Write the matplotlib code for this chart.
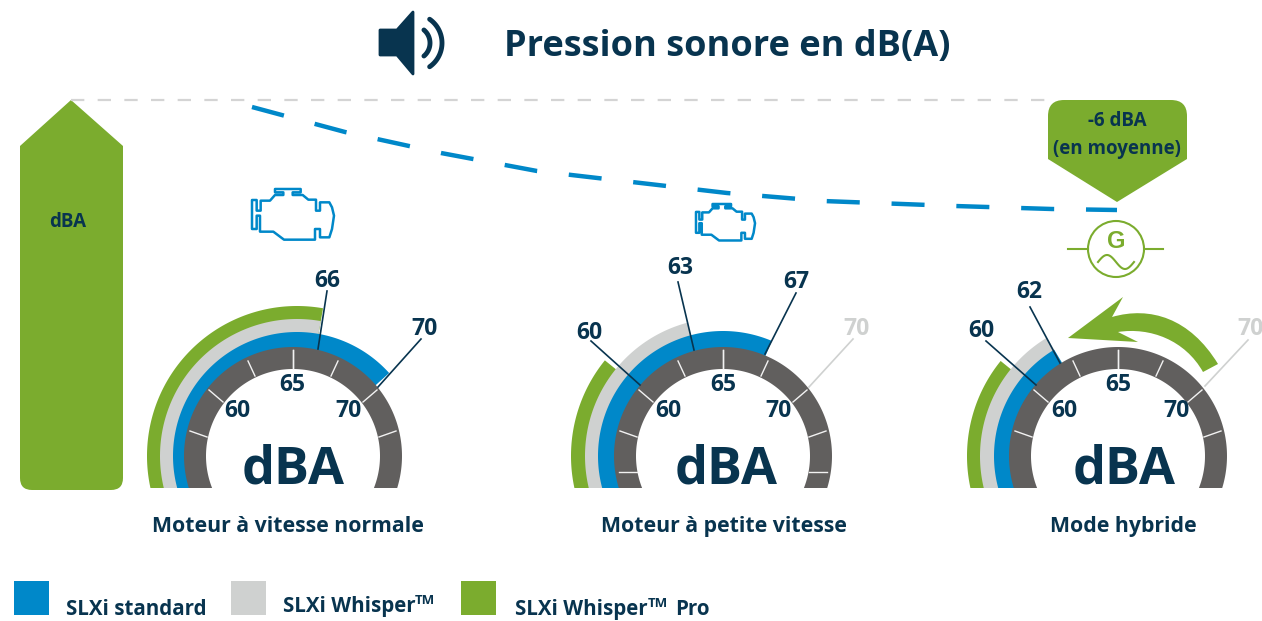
"""
Gauge infographic: pression sonore en dB(A)
"""

import numpy as np
import matplotlib
matplotlib.use("Agg")
import matplotlib.pyplot as plt
from matplotlib.patches import Polygon, Rectangle, Circle, PathPatch
from matplotlib.path import Path

navy = "#08344f"
blue = "#0088c9"
green = "#7bac2e"
light = "#cfd1d0"
dark = "#615f5e"
white = "#f2f2f2"

plt.rcParams["font.family"] = ["Open Sans", "DejaVu Sans"]

title = "Pression sonore en dB(A)"
gauge_names = ["Moteur à vitesse normale", "Moteur à petite vitesse", "Mode hybride"]
scale_labels = [60, 65, 70]
# value where each arc stops, per gauge
green_values = [66, 60, 60]
light_values = [66, 63, 62]
blue_values = [70, 67, 62]
legend_names = ["SLXi standard", "SLXi Whisper", "SLXi Whisper"]

# dial calibration read from the arcs (dB -> degrees)
dial_values = [60, 62, 63, 65, 66, 67, 70]
dial_angles = [141, 121, 105, 90, 80, 67, 42]

# dashed trend line
trend_x = [252, 345, 441, 537, 632, 727, 823, 955, 1052, 1117]
trend_y = [107, 132, 153, 171, 182, 193, 201, 206, 209, 210]

# layout of the three gauges
gauge_cx = [293, 723, 1118]
gauge_cy = 456
arc_cx = [297, 723, 1118]
arc_radii = [(150, 137, 124), (152, 138, 125), (151, 138, 124)]
inner_label_x = [(237, 292, 349), (668, 723, 779), (1064, 1118, 1176)]
dba_x = [293, 726, 1124]
name_x = [288, 724, 1123]

# tick ends relative to gauge centre
tick_in = [(0, 88), (38, 80), (70, 54), (86, 19)]
tick_out = [(0, 106), (45, 95), (84, 66), (103, 25)]

engine_x = [92, 120, 135, 160, 160, 135, 135, 212, 212, 188, 188, 218, 235, 258, 258, 270, 270,
            298, 306, 312, 306, 298, 270, 270, 255, 255, 162, 130, 90, 90, 80, 80, 66, 66, 80, 80, 92, 92]
engine_y = [605, 605, 588, 588, 580, 580, 570, 570, 580, 580, 588, 588, 602, 602, 635, 635, 610,
            610, 625, 650, 690, 715, 715, 690, 690, 722, 722, 698, 698, 650, 650, 690, 690, 603, 603, 635, 635, 605]


def val_to_angle(v):
    return np.interp(v, dial_values, dial_angles)


def ring(cx, cy, r_out, r_in, a1, a2):
    t = np.radians(np.linspace(a1, a2, 200))
    outer = np.column_stack((cx + r_out * np.cos(t), cy - r_out * np.sin(t)))
    inner = np.column_stack((cx + r_in * np.cos(t[::-1]), cy - r_in * np.sin(t[::-1])))
    return np.vstack((outer, inner))


def label(x, y, s, size=14.5, color=navy, **kw):
    # open sans sits a bit high when centred, push it down
    ax.text(x, y + size * 0.13, s, fontsize=size, color=color, ha=kw.pop("ha", "center"), va="center",
            fontweight="bold", **kw)


def draw_engine(x0, y0, scale):
    x = x0 + (np.array(engine_x) - 66) / 3 * scale
    y = y0 + (np.array(engine_y) - 570) / 3 * scale
    ax.add_patch(Polygon(np.column_stack((x, y)), closed=True, fill=False, ec=blue,
                         lw=1.8, joinstyle="round"))


fig = plt.figure(figsize=(12.62, 6.21), dpi=100)
ax = fig.add_axes([0, 0, 1, 1])
ax.set_xlim(0, 1262)
ax.set_ylim(621, 0)
ax.axis("off")

# title and speaker
label(727, 44, title, size=26)
ax.add_patch(Polygon([(380, 30), (397, 30), (413, 12), (413, 74), (397, 55), (380, 55)],
                     closed=True, fc=navy, ec=navy, lw=2, joinstyle="round"))
for r, span in [(17, 50), (29, 55)]:
    t = np.radians(np.linspace(-span, span, 40))
    ax.plot(413 + r * np.cos(t), 43 + r * np.sin(t), color=navy, lw=3.5, solid_capstyle="round")

# big arrow on the left
arrow_path = Path([(71, 100), (123, 146), (123, 478), (123, 490), (111, 490), (32, 490), (20, 490),
                   (20, 478), (20, 146), (71, 100)],
                  [Path.MOVETO, Path.LINETO, Path.LINETO, Path.CURVE3, Path.CURVE3, Path.LINETO,
                   Path.CURVE3, Path.CURVE3, Path.LINETO, Path.CLOSEPOLY])
ax.add_patch(PathPatch(arrow_path, fc=green, ec="none"))
label(68, 220, "dBA", size=13.5)

# reference and trend lines
ax.plot([71, 1050], [100, 100], color="#d4d4d4", lw=1.6, dashes=(6, 6))
ax.plot(trend_x, trend_y, color=blue, lw=3.2, dash_capstyle="butt", dashes=(7.43, 7.16))

# callout
call_path = Path([(1048, 159), (1048, 116), (1048, 100), (1064, 100), (1171, 100), (1187, 100),
                  (1187, 116), (1187, 159), (1117, 202), (1048, 159)],
                 [Path.MOVETO, Path.LINETO, Path.CURVE3, Path.CURVE3, Path.LINETO, Path.CURVE3,
                  Path.CURVE3, Path.LINETO, Path.LINETO, Path.CLOSEPOLY])
ax.add_patch(PathPatch(call_path, fc=green, ec="none"))
label(1117, 119, "-6 dBA", size=13.5)
label(1117, 147, "(en moyenne)", size=13.5)

# engines
draw_engine(252, 189, 1.0)
draw_engine(696, 204, 0.72)

# generator icon
ax.add_patch(Circle((1116, 249), 28, fill=False, ec=green, lw=1.5))
ax.plot([1068, 1088], [249, 249], color=green, lw=1.5)
ax.plot([1145, 1163], [249, 249], color=green, lw=1.5)
ax.text(1116, 241, "G", fontsize=17, color=green, ha="center", va="center", fontweight="bold",
        family="Liberation Sans")
wave_t = np.linspace(0, 1, 60)
ax.plot(1098 + 36 * wave_t, 262 - 7 * np.sin(2 * np.pi * wave_t), color=green, lw=1.5)

# gauges
clip = Rectangle((0, 0), 1262, 488, transform=ax.transData)
for i in range(3):
    cx = gauge_cx[i]
    r_g, r_l, r_b = arc_radii[i]
    for r, v, c in [(r_g, green_values[i], green), (r_l, light_values[i], light), (r_b, blue_values[i], blue)]:
        # inner edge stays hidden under the grey dial
        p = Polygon(ring(arc_cx[i], gauge_cy, r, 100, val_to_angle(v), 200), closed=True, fc=c, ec="none")
        ax.add_patch(p)
        p.set_clip_path(clip)
    p = Polygon(ring(cx, gauge_cy, 109, 87, -30, 210), closed=True, fc=dark, ec="none")
    ax.add_patch(p)
    p.set_clip_path(clip)
    for (ix, iy), (ox, oy) in zip(tick_in, tick_out):
        ax.plot([cx + ix, cx + ox], [gauge_cy - iy, gauge_cy - oy], color=white, lw=1)
        ax.plot([cx - ix, cx - ox], [gauge_cy - iy, gauge_cy - oy], color=white, lw=1)
    if i == 1:
        # only the middle gauge shows the lowest ticks
        ax.plot([cx + 86, cx + 104], [472, 472], color=white, lw=1)
        ax.plot([cx - 86, cx - 104], [472, 472], color=white, lw=1)
    ys = [409, 383, 409]
    for lx, ly, s in zip(inner_label_x[i], ys, scale_labels):
        label(lx, ly, str(s), size=16.5)
    label(dba_x[i], 465, "dBA", size=37.5)
    label(name_x[i], 525, gauge_names[i], size=15.3)

# green arrow on the hybrid gauge
hyb_verts = [(1218, 364), (1190, 318), (1150, 306), (1112, 317), (1123, 297), (1068, 338),
             (1138, 342), (1118, 332), (1150, 327), (1185, 340), (1203, 372), (1218, 364)]
hyb_codes = [Path.MOVETO, Path.CURVE4, Path.CURVE4, Path.CURVE4, Path.LINETO, Path.LINETO,
             Path.LINETO, Path.LINETO, Path.CURVE4, Path.CURVE4, Path.CURVE4, Path.CLOSEPOLY]
ax.add_patch(PathPatch(Path(hyb_verts, hyb_codes), fc=green, ec="none", zorder=3))

# leaders and their numbers
leaders = [
    (327, 279, "66", navy, (327, 291), (318, 349)),
    (425, 327, "70", navy, (421, 339), (378, 387)),
    (589, 331, "60", navy, (591, 341), (640, 385)),
    (680, 266, "63", navy, (678, 282), (694, 350)),
    (796, 280, "67", navy, (796, 293), (765, 354)),
    (857, 327, "70", light, (853, 339), (809, 387)),
    (981, 329, "60", navy, (986, 341), (1036, 385)),
    (1029, 290, "62", navy, (1030, 307), (1060, 363)),
    (1251, 327, "70", light, (1248, 340), (1205, 386)),
]
for lx, ly, s, c, a, b in leaders:
    ax.plot([a[0], b[0]], [a[1], b[1]], color=c, lw=1.2, zorder=4)
    label(lx, ly, s, size=16.5, color=c, clip_on=True)

# legend
for x0, c, name, tx, ty in zip([14, 231, 461], [blue, light, green], legend_names,
                               [66, 283, 515], [608, 605, 608]):
    ax.add_patch(Rectangle((x0, 581), 35, 34, fc=c, ec="none"))
    label(tx, ty, name, size=14.8, ha="left")
label(415, 599, "TM", size=9.5, ha="left")
label(648, 602, "TM", size=9.5, ha="left")
label(675, 608, "Pro", size=14.8, ha="left")

fig.savefig("out.png", dpi=100)
